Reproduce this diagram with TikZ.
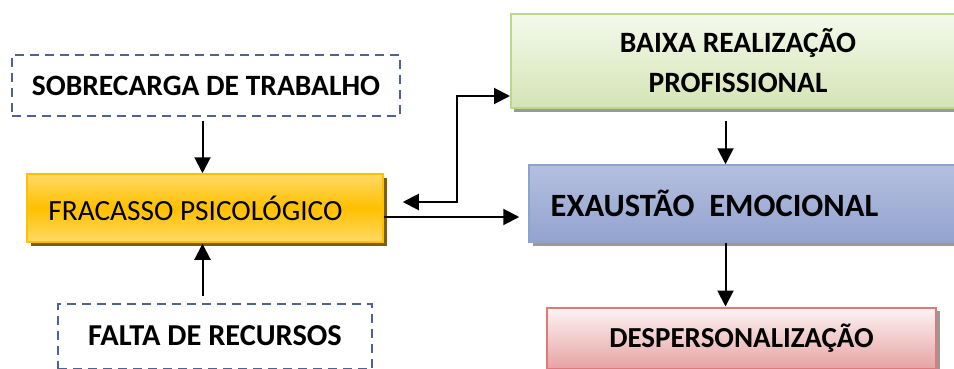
\documentclass[tikz,border=0pt]{standalone}
\usepackage{fontspec}
\setmainfont{Carlito}
\usetikzlibrary{arrows.meta,calc,shadows}
\definecolor{dashblue}{HTML}{4F6298}
\definecolor{orfill}{HTML}{FFC000}
\definecolor{orlight}{HTML}{FFD966}
\definecolor{orshadow}{HTML}{7F6000}
\definecolor{grtop}{HTML}{F4F9EC}
\definecolor{grbot}{HTML}{D4E4B4}
\definecolor{grline}{HTML}{B9D98A}
\definecolor{bltop}{HTML}{B4C0E0}
\definecolor{blmid}{HTML}{D6DCEC}
\definecolor{blbot}{HTML}{93A3CE}
\definecolor{blline}{HTML}{8EA2D0}
\definecolor{pktop}{HTML}{FDF4F4}
\definecolor{pkbot}{HTML}{E6A3A3}
\definecolor{pkline}{HTML}{E07A7A}
\tikzset{
  dbox/.style={draw=dashblue, line width=2pt, dash pattern=on 9pt off 6pt, fill=white,
    font=\fontsize{29.5}{34}\selectfont\bfseries, inner sep=0pt},
  orbox/.style={draw=orfill, line width=1.5pt, top color=orlight, bottom color=orlight, middle color=orfill,
    drop shadow={shadow xshift=4pt, shadow yshift=-4pt, fill=orshadow, opacity=1},
    font=\fontsize{29.3}{34}\selectfont, inner sep=0pt},
  grbox/.style={draw=grline, line width=2pt, top color=grtop, bottom color=grbot,
    drop shadow={shadow xshift=3pt, shadow yshift=-4pt, fill=gray!80, opacity=1},
    font=\fontsize{29.5}{40}\selectfont\bfseries, inner sep=0pt, align=center},
  blbox/.style={draw=blline, line width=1.5pt, top color=bltop, middle color=blmid, bottom color=blbot,
    drop shadow={shadow xshift=4pt, shadow yshift=-4pt, fill=gray!80, opacity=1},
    font=\fontsize{32.5}{36}\selectfont\bfseries, inner sep=0pt},
  pkbox/.style={draw=pkline, line width=2pt, top color=pktop, bottom color=pkbot,
    drop shadow={shadow xshift=4pt, shadow yshift=-3pt, fill=gray!80, opacity=1},
    font=\fontsize{29}{34}\selectfont\bfseries, inner sep=0pt},
  arr/.style={line width=2pt, -{Triangle[length=16pt,width=16pt]}},
  arrb/.style={line width=2pt, {Triangle[length=16pt,width=16pt]}-{Triangle[length=16pt,width=16pt]}}
}
\begin{document}
\begin{tikzpicture}[x=1pt,y=-1pt]
\useasboundingbox[fill=white] (0,0) rectangle (954,369);
\node[dbox, minimum width=388pt, minimum height=61pt] (sob) at (206,85.5) {SOBRECARGA DE TRABALHO};
\node[dbox, minimum width=314pt, minimum height=65pt] (fal) at (215,336) {\fontsize{30.4}{34}\selectfont FALTA DE RECURSOS};
\node[orbox, minimum width=356pt, minimum height=68pt] (fra) at (205,208) {FRACASSO PSICOLÓGICO\kern19pt};
\node[grbox, minimum width=454pt, minimum height=94pt] (gre) at (738,61) {BAIXA REALIZAÇÃO\\PROFISSIONAL};
\node[blbox, minimum width=446pt, minimum height=77pt] (blu) at (752,203.5) {EXAUSTÃO\ \ EMOCIONAL\kern75pt};
\node[pkbox, minimum width=389pt, minimum height=61pt] (pin) at (741.5,338) {DESPERSONALIZAÇÃO};
\coordinate (s1) at ($(sob.south)+(-3.5,4)$);
\coordinate (f1) at ($(fra.east)+(0,9)$);
\coordinate (e1) at ($(blu.west)+(-9,14.5)$);
\coordinate (f2) at ($(fra.east)+(19,-6)$);
\coordinate (k1) at ($(fra.east)+(73,-6)$);
\coordinate (g0) at ($(gre.west)+(0,35)$);
\coordinate (g1) at ($(gre.south)+(-12.5,12)$);
\coordinate (b1) at ($(blu.south)+(-26.5,0)$);
\coordinate (fb) at ($(fra.south)+(0,1)$);
\coordinate (ft) at ($(fal.north)+(0,-7)$);
\draw[arr] (s1) -- (s1 |- fra.north);
\draw[arr] (ft -| s1) -- (s1 |- fb);
\draw[arr] (f1) -- (f1 -| e1);
\draw[arrb] (f2) -- (k1) |- (g0);
\draw[arr] (g1) -- (g1 |- blu.north);
\draw[arr] (b1) -- (b1 |- pin.north);
\end{tikzpicture}
\end{document}
